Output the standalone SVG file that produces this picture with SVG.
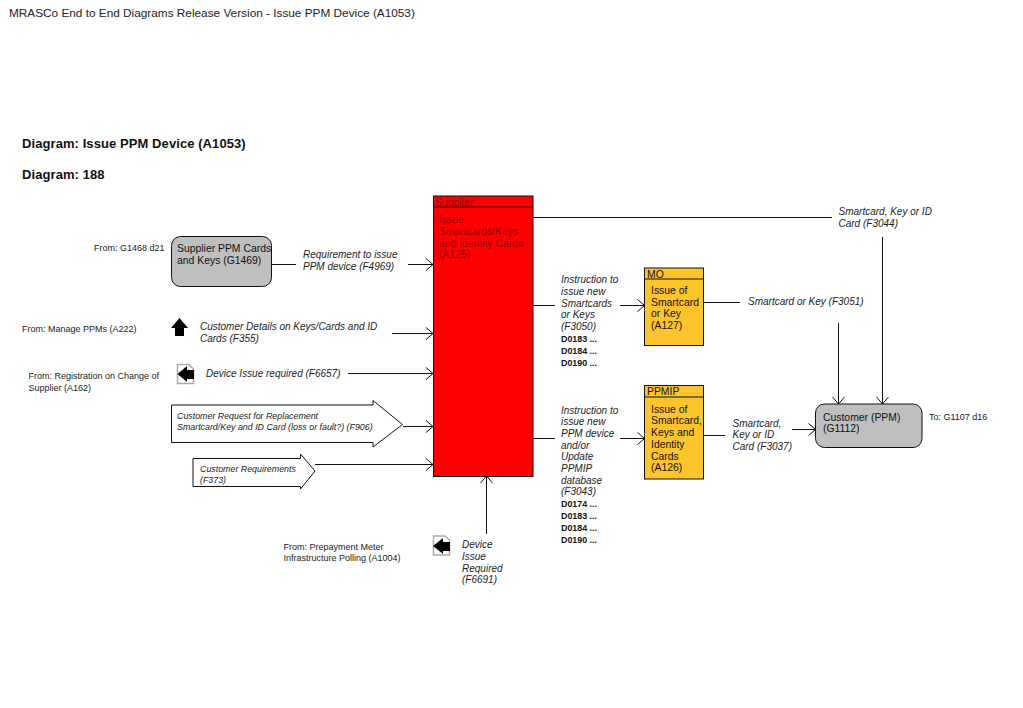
<svg xmlns="http://www.w3.org/2000/svg" width="1023" height="708" viewBox="0 0 1023 708">
<style>
text{font-family:"Liberation Sans",Arial,sans-serif;fill:#111}
.t{font-size:10.4px}
.i{font-size:10px;font-style:italic;fill:#222}
.f{font-size:9px;fill:#222}
.s{font-size:8.85px;font-style:italic;fill:#222}
.d{font-size:8.9px;font-weight:bold}
.h{font-size:13px;font-weight:bold;letter-spacing:.08px}
.r{font-size:10.4px;fill:#8b0000}
.box{stroke:#111;stroke-width:1}
.c{fill:none;stroke:#111;stroke-width:1;marker-end:url(#a)}
.p{fill:none;stroke:#111;stroke-width:1}
.off{fill:#fff;stroke:#aaa;stroke-width:1.5}
</style>
<defs><marker id="a" markerUnits="userSpaceOnUse" markerWidth="10" markerHeight="14" refX="8" refY="7" orient="auto"><path d="M1,1L8,7L1,13" fill="none" stroke="#111"/></marker></defs>
<text x="9" y="17" font-size="11.8" style="fill:#222">MRASCo End to End Diagrams Release Version - Issue PPM Device (A1053)</text>
<text x="22" y="148" class="h">Diagram: Issue PPM Device (A1053)</text>
<text x="22" y="179" class="h">Diagram: 188</text>
<g id="connectors">
<path class="p" d="M271.500 264.500H296"/><path class="c" d="M408 264.500H433"/>
<path class="c" d="M392 333.500H433"/>
<path class="c" d="M348 373.500H433"/>
<path class="c" d="M403 426.500H433"/>
<path class="c" d="M315 464.500H433"/>
<path class="c" d="M486.500 534V476"/>
<path class="p" d="M533 217.500H832"/>
<path class="c" d="M882.500 237V404"/>
<path class="p" d="M533 305.500H555"/><path class="c" d="M620 305.500H644.500"/>
<path class="p" d="M703.500 302.500H740"/>
<path class="c" d="M838.500 323V404"/>
<path class="p" d="M533 438.500H555"/><path class="c" d="M620 438.500H644.500"/>
<path class="p" d="M704 435.500H725"/>
<path class="c" d="M792 429.500H815.500"/>
</g>
<g id="supplier-ppm"><rect class="box" x="171.500" y="236.500" width="100" height="50" rx="9" fill="#bfbfbf"/>
<text class="t" x="177" y="252">Supplier PPM Cards</text><text class="t" x="177" y="264">and Keys (G1469)</text></g>
<g id="supplier"><rect class="box" x="433.500" y="196" width="99.500" height="280.500" fill="#f00"/><path class="p" d="M433.500 207H533"/>
<text class="r" x="435" y="206">Supplier</text>
<text class="r" x="439" y="223">Issue</text><text class="r" x="439" y="235">Smartcards/Keys</text><text class="r" x="439" y="247">and Identity Cards</text><text class="r" x="439" y="258">(A125)</text></g>
<g id="mo"><rect class="box" x="644.500" y="268" width="59" height="77.500" fill="#fdc42c"/><path class="p" d="M644.500 279H703.500"/>
<text class="t" x="647" y="278">MO</text>
<text class="t" x="651" y="294">Issue of</text><text class="t" x="651" y="306">Smartcard</text><text class="t" x="651" y="317">or Key</text><text class="t" x="651" y="329">(A127)</text></g>
<g id="ppmip"><rect class="box" x="644.500" y="385.500" width="59" height="93.500" fill="#fdc42c"/><path class="p" d="M644.500 397H703.500"/>
<text class="t" x="647" y="395">PPMIP</text>
<text class="t" x="651" y="413">Issue of</text><text class="t" x="651" y="424">Smartcard,</text><text class="t" x="651" y="436">Keys and</text><text class="t" x="651" y="448">Identity</text><text class="t" x="651" y="460">Cards</text><text class="t" x="651" y="471">(A126)</text></g>
<g id="customer"><rect class="box" x="815.500" y="404" width="106.500" height="43.500" rx="9" fill="#bfbfbf"/>
<text class="t" x="823" y="421">Customer (PPM)</text><text class="t" x="823" y="432">(G1112)</text></g>
<g id="ext-f906"><path class="box" fill="#fff" d="M171.500 405H373V400.500L402.500 424.500L373 447V442.500H171.500Z"/>
<text class="s" x="177" y="419">Customer Request for Replacement</text><text class="s" x="177" y="430">Smartcard/Key and ID Card (loss or fault?) (F906)</text></g>
<g id="ext-f373"><path class="box" fill="#fff" d="M193 458.500H300.500V454L315 471L300.500 489V486.500H193Z"/>
<text class="s" x="200" y="472">Customer Requirements</text><text class="s" x="200" y="483">(F373)</text></g>
<g id="icon-a222"><path fill="#000" d="M179.500 318L188 328H184V336H175V328H171Z"/></g>
<g id="icon-a162"><path class="off" d="M177.500 364.500H189L193.500 369V383.500H177.500Z"/><path fill="#000" d="M177.500 374L187 366V370H194V379H187V382Z"/></g>
<g id="icon-a1004"><path class="off" d="M433.500 536H445L449.500 540V555H433.500Z"/><path fill="#000" d="M433 546L443 538V542H450V551H443V554Z"/></g>
<g id="labels">
<text class="f" x="94" y="251">From: G1468 d21</text>
<text class="f" x="22" y="332">From: Manage PPMs (A222)</text>
<text class="f" x="28.500" y="379">From: Registration on Change of</text><text class="f" x="28.500" y="391">Supplier (A162)</text>
<text class="f" x="283.500" y="550">From: Prepayment Meter</text><text class="f" x="283.500" y="561">Infrastructure Polling (A1004)</text>
<text class="f" x="929" y="420">To: G1107 d16</text>
<text class="i" x="303" y="258">Requirement to issue</text><text class="i" x="303" y="270">PPM device (F4969)</text>
<text class="i" x="200" y="330">Customer Details on Keys/Cards and ID</text><text class="i" x="200" y="342">Cards (F355)</text>
<text class="i" x="206" y="377">Device Issue required (F6657)</text>
<text class="i" x="462" y="548">Device</text><text class="i" x="462" y="560">Issue</text><text class="i" x="462" y="572">Required</text><text class="i" x="462" y="583">(F6691)</text>
<text class="i" x="561" y="283">Instruction to</text><text class="i" x="561" y="295">issue new</text><text class="i" x="561" y="307">Smartcards</text><text class="i" x="561" y="318">or Keys</text><text class="i" x="561" y="330">(F3050)</text>
<text class="d" x="561" y="342">D0183 ...</text><text class="d" x="561" y="354">D0184 ...</text><text class="d" x="561" y="366">D0190 ...</text>
<text class="i" x="561" y="414">Instruction to</text><text class="i" x="561" y="425">issue new</text><text class="i" x="561" y="437">PPM device</text><text class="i" x="561" y="449">and/or</text><text class="i" x="561" y="460">Update</text><text class="i" x="561" y="472">PPMIP</text><text class="i" x="561" y="484">database</text><text class="i" x="561" y="495">(F3043)</text>
<text class="d" x="561" y="507">D0174 ...</text><text class="d" x="561" y="519">D0183 ...</text><text class="d" x="561" y="531">D0184 ...</text><text class="d" x="561" y="543">D0190 ...</text>
<text class="i" x="732.500" y="427">Smartcard,</text><text class="i" x="732.500" y="438">Key or ID</text><text class="i" x="732.500" y="450">Card (F3037)</text>
<text class="i" x="838.500" y="215">Smartcard, Key or ID</text><text class="i" x="838.500" y="227">Card (F3044)</text>
<text class="i" x="748" y="305">Smartcard or Key (F3051)</text>
</g>
</svg>
